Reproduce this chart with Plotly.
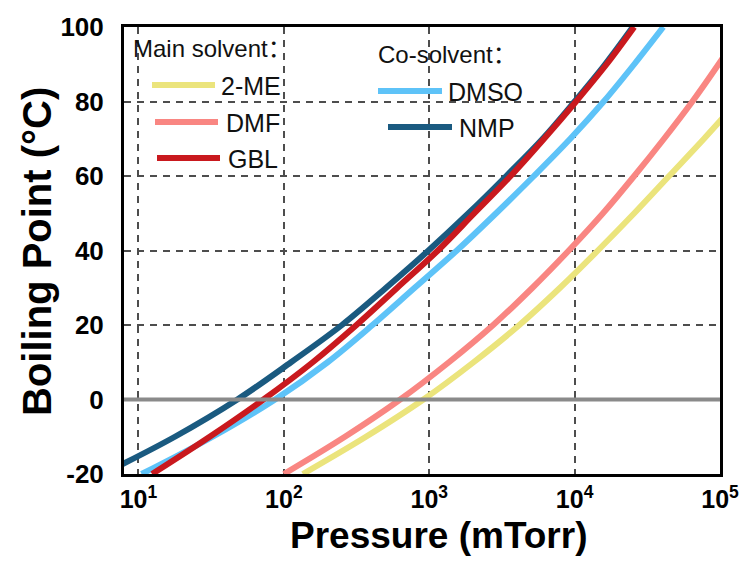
import plotly.graph_objects as go

# ---------------- data ----------------
# Boiling point (°C) vs vapour pressure (mTorr)
temp_nmp = [-18, -10, 0, 10, 20, 30, 40, 50, 60, 70, 80, 90, 100]
p_nmp = [7.2, 17.8, 47.9, 112, 251, 505, 988, 1862, 3388, 6026, 10000, 16218, 25119]

temp_gbl = [-20, -10, 0, 10, 20, 30, 40, 50, 60, 70, 80, 90, 100]
p_gbl = [12.4, 30.9, 72.4, 158, 316, 603, 1148, 2042, 3631, 6166, 10233, 16596, 25704]

temp_dmso = [-20, -10, 0, 10, 20, 30, 40, 50, 60, 70, 80, 90, 100]
p_dmso = [10.5, 32.4, 87.1, 200, 407, 794, 1549, 2884, 5248, 9333, 15849, 25704, 40738]

temp_dmf = [-20, -10, 0, 10, 20, 30, 40, 50, 60, 70, 80, 90, 100]
p_dmf = [100, 263, 631, 1365, 2754, 5129, 9120, 15668, 25704, 41210, 64565, 97724, 144544]

temp_2me = [-20, -10, 0, 10, 20, 30, 40, 50, 60, 70, 80]
p_2me = [135, 367, 912, 2018, 4169, 7943, 14454, 25704, 44668, 77625, 131826]

x_tickvals = [10, 100, 1000, 10000, 100000]
x_ticktext = ["10<sup>1</sup>", "10<sup>2</sup>", "10<sup>3</sup>", "10<sup>4</sup>", "10<sup>5</sup>"]
y_tickvals = [-20, 0, 20, 40, 60, 80, 100]
y_ticktext = ["-20", "0", "20", "40", "60", "80", "100"]

main_names = ["2-ME", "DMF", "GBL"]
co_names = ["DMSO", "NMP"]

colors = {
    "2-ME": "#EBE47C",
    "DMF": "#F98682",
    "GBL": "#C9191E",
    "DMSO": "#5EC3F8",
    "NMP": "#1A5A80",
}

series = {
    "2-ME": (p_2me, temp_2me),
    "DMF": (p_dmf, temp_dmf),
    "DMSO": (p_dmso, temp_dmso),
    "NMP": (p_nmp, temp_nmp),
    "GBL": (p_gbl, temp_gbl),
}

FONT = "Liberation Sans, Arial, sans-serif"
FONT_CJK = "Liberation Sans, Arial, Noto Sans CJK SC, sans-serif"

fig = go.Figure()
for name in ["2-ME", "DMF", "DMSO", "NMP", "GBL"]:
    xs, ys = series[name]
    fig.add_trace(go.Scatter(
        x=xs, y=ys, mode="lines", name=name,
        line=dict(color=colors[name], width=6, shape="spline", smoothing=1.0),
        showlegend=False,
    ))

# ---------------- layout ----------------
L, R, T, B = 124, 25, 27, 88
W, H = 745, 562
pw, ph = W - L - R, H - T - B


def px_x(p):
    return (p - L) / pw


def px_y(p):
    return (H - B - p) / ph


shapes = []
annotations = []

# zero reference line (drawn above curves)
shapes.append(dict(type="line", xref="paper", yref="y", x0=0, x1=1, y0=0, y1=0,
                   line=dict(color="#8A8A8A", width=4), layer="above"))

# legend – main solvent
annotations.append(dict(text="Main solvent：", xref="paper", yref="paper",
                        x=px_x(131), y=px_y(48), xanchor="left", yanchor="middle",
                        showarrow=False, font=dict(family=FONT_CJK, size=24, color="#111")))
main_pos = [(152, 215, 85, 219), (155, 218, 122, 224), (157, 220, 158, 226)]
for name, (x0, x1, yy, tx) in zip(main_names, main_pos):
    shapes.append(dict(type="line", xref="paper", yref="paper",
                       x0=px_x(x0), x1=px_x(x1), y0=px_y(yy), y1=px_y(yy),
                       line=dict(color=colors[name], width=6)))
    annotations.append(dict(text=name, xref="paper", yref="paper",
                            x=px_x(tx), y=px_y(yy + 1), xanchor="left", yanchor="middle",
                            showarrow=False, font=dict(family=FONT, size=25, color="#111")))

# legend – co-solvent
annotations.append(dict(text="Co-solvent：", xref="paper", yref="paper",
                        x=px_x(376), y=px_y(54), xanchor="left", yanchor="middle",
                        showarrow=False, font=dict(family=FONT_CJK, size=24, color="#111")))
co_pos = [(378, 442, 91, 446), (388, 452, 127, 457)]
for name, (x0, x1, yy, tx) in zip(co_names, co_pos):
    shapes.append(dict(type="line", xref="paper", yref="paper",
                       x0=px_x(x0), x1=px_x(x1), y0=px_y(yy), y1=px_y(yy),
                       line=dict(color=colors[name], width=6)))
    annotations.append(dict(text=name, xref="paper", yref="paper",
                            x=px_x(tx), y=px_y(yy + 1), xanchor="left", yanchor="middle",
                            showarrow=False, font=dict(family=FONT, size=25, color="#111")))

# axis titles
annotations.append(dict(text="<b>Pressure (mTorr)</b>", xref="paper", yref="paper",
                        x=px_x(438), y=px_y(535), xanchor="center", yanchor="middle",
                        borderpad=0, showarrow=False,
                        font=dict(family=FONT, size=37, color="#000")))
annotations.append(dict(text="<b>Boiling Point (°C)</b>", xref="paper", yref="paper",
                        x=px_x(37), y=px_y(252), xanchor="center", yanchor="middle",
                        textangle=-90, showarrow=False,
                        font=dict(family=FONT, size=40, color="#000")))

fig.update_layout(
    width=W, height=H,
    margin=dict(l=L, r=R, t=T, b=B, autoexpand=False),
    paper_bgcolor="white", plot_bgcolor="white",
    font=dict(family=FONT, color="#000"),
    shapes=shapes, annotations=annotations,
    showlegend=False,
)

fig.update_xaxes(
    type="log", range=[0.9004, 5.0], automargin=False,
    tickvals=x_tickvals, ticktext=x_ticktext,
    tickfont=dict(family=FONT, size=25, weight="bold", color="#000"),
    ticks="", ticklabelstandoff=1,
    showgrid=True, gridcolor="#4d4d4d", gridwidth=1.5, griddash="7px,6px",
    showline=True, linecolor="#000", linewidth=3, mirror=True,
    zeroline=False,
)
fig.update_yaxes(
    range=[-20, 100], automargin=False,
    tickvals=y_tickvals, ticktext=y_ticktext,
    tickfont=dict(family=FONT, size=26, weight="bold", color="#000"),
    ticks="", ticklabelstandoff=12,
    showgrid=True, gridcolor="#4d4d4d", gridwidth=1.5, griddash="7px,6px",
    showline=True, linecolor="#000", linewidth=3, mirror=True,
    zeroline=False,
)

fig.write_html("out.html")
